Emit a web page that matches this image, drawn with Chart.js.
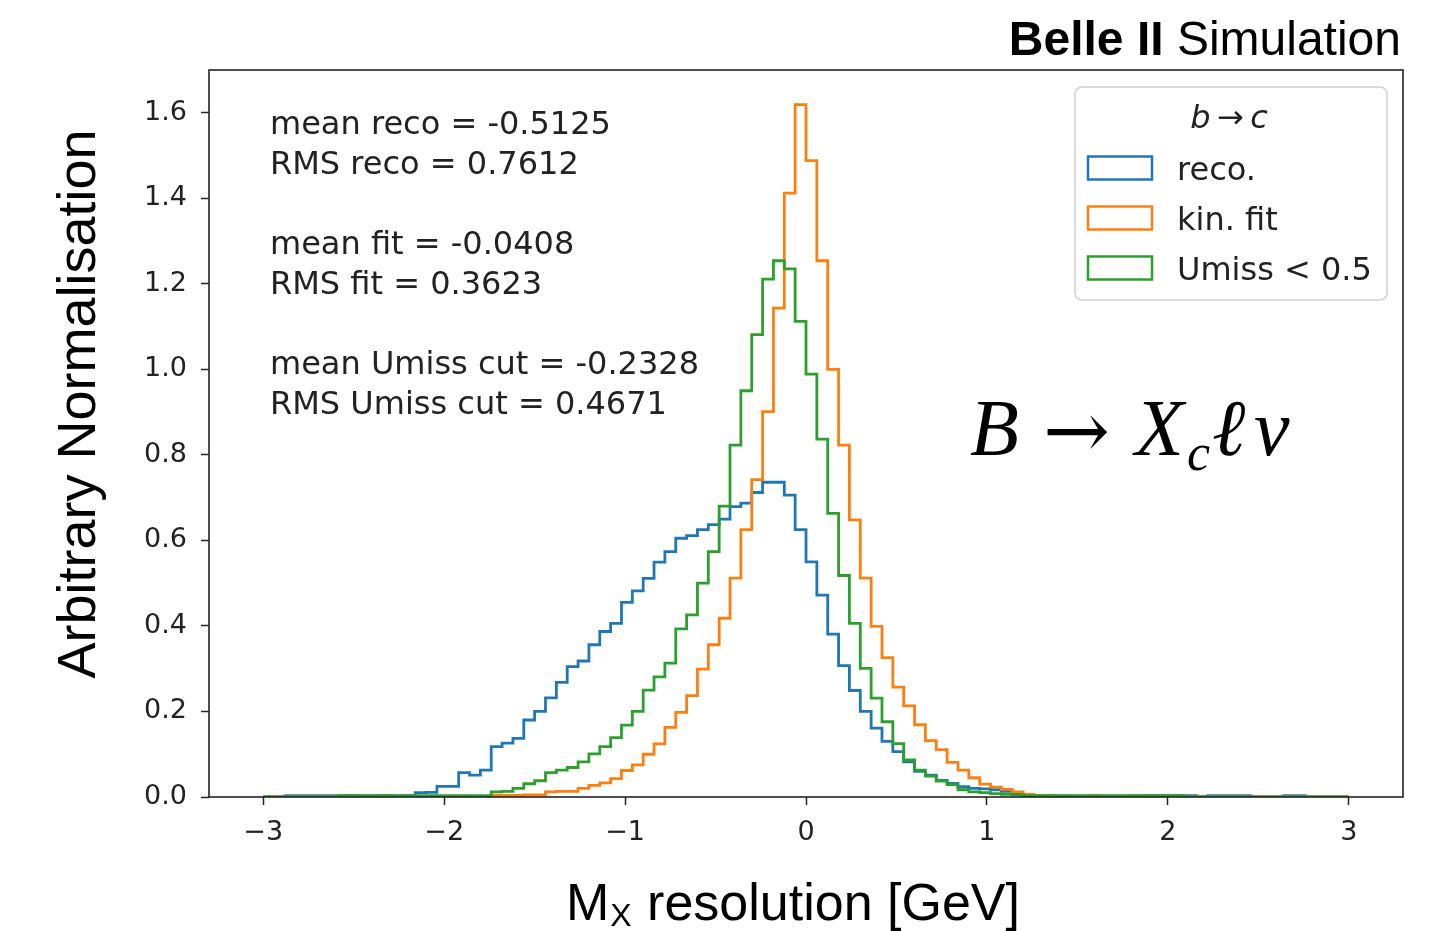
<!DOCTYPE html>
<html>
<head>
<meta charset="utf-8">
<script src="https://cdn.jsdelivr.net/npm/chart.js@4.4.1/dist/chart.umd.min.js"></script>
<style>
  html, body { margin: 0; padding: 0; background: #fff; }
  #wrap { width: 1430px; height: 931px; position: relative; }
</style>
</head>
<body>
<div id="wrap"><canvas id="chart"></canvas></div>
<script>
// histogram range: 100 bins between -3 and 3 GeV
const binLow = -3, binHigh = 3;

// normalised bin contents
const reco = [
  0, 0, 0.003, 0.003, 0.003, 0.003, 0.003, 0.003, 0.003, 0.003,
  0.003, 0.003, 0.003, 0.003, 0.010, 0.011, 0.025, 0.025, 0.057, 0.051,
  0.063, 0.118, 0.126, 0.137, 0.180, 0.200, 0.232, 0.268, 0.305, 0.318,
  0.356, 0.387, 0.406, 0.455, 0.482, 0.511, 0.549, 0.574, 0.605, 0.611,
  0.625, 0.637, 0.650, 0.679, 0.687, 0.712, 0.736, 0.736, 0.706, 0.625,
  0.550, 0.472, 0.381, 0.307, 0.249, 0.200, 0.161, 0.130, 0.106, 0.082,
  0.060, 0.051, 0.039, 0.032, 0.024, 0.020, 0.019, 0.017, 0.013, 0.008,
  0.005, 0.003, 0.003, 0.002, 0.002, 0.002, 0.002, 0.002, 0.002, 0.002,
  0.002, 0.003, 0.003, 0.003, 0.003, 0.003, 0, 0.003, 0.003, 0.003,
  0.003, 0, 0, 0, 0.003, 0.003, 0, 0, 0, 0
];
const kinFit = [
  0, 0, 0, 0, 0, 0, 0, 0, 0, 0,
  0, 0, 0, 0, 0, 0, 0, 0, 0, 0,
  0, 0.004, 0.004, 0.004, 0.005, 0.005, 0.012, 0.013, 0.013, 0.020,
  0.027, 0.033, 0.043, 0.062, 0.075, 0.100, 0.124, 0.163, 0.198, 0.237,
  0.299, 0.356, 0.418, 0.512, 0.625, 0.742, 0.901, 1.143, 1.412, 1.619,
  1.488, 1.254, 1.000, 0.823, 0.648, 0.512, 0.399, 0.326, 0.257, 0.213,
  0.169, 0.132, 0.111, 0.081, 0.063, 0.045, 0.030, 0.023, 0.018, 0.012,
  0.006, 0.003, 0.002, 0.002, 0.001, 0.001, 0.003, 0.001, 0.001, 0.001,
  0.003, 0, 0, 0, 0, 0, 0, 0, 0, 0,
  0, 0, 0, 0, 0, 0, 0, 0, 0, 0
];
const umiss = [
  0, 0, 0, 0, 0, 0, 0, 0.003, 0.003, 0.002,
  0.003, 0.003, 0.002, 0.003, 0.003, 0.003, 0.003, 0.003, 0.003, 0.003,
  0.003, 0.012, 0.013, 0.020, 0.031, 0.038, 0.057, 0.063, 0.069, 0.082,
  0.101, 0.118, 0.139, 0.168, 0.200, 0.250, 0.281, 0.313, 0.393, 0.426,
  0.500, 0.574, 0.680, 0.823, 0.950, 1.081, 1.211, 1.254, 1.235, 1.112,
  0.989, 0.837, 0.663, 0.518, 0.406, 0.301, 0.231, 0.176, 0.125, 0.087,
  0.063, 0.049, 0.037, 0.029, 0.017, 0.012, 0.010, 0.008, 0.006, 0.005,
  0.003, 0.003, 0.003, 0.003, 0.003, 0.003, 0.003, 0.003, 0.003, 0.003,
  0.003, 0.003, 0.003, 0.003, 0.003, 0, 0, 0, 0, 0,
  0, 0, 0, 0, 0, 0, 0, 0, 0, 0
];

const seriesLabels = ['reco.', 'kin. fit', 'Umiss < 0.5'];
const seriesColors = ['#1f77b4', '#ff7f0e', '#2ca02c'];
const legendTitle = 'b\u2009\u2192\u2009c';

const statLines = [
  'mean reco = -0.5125', 'RMS reco = 0.7612', '',
  'mean fit = -0.0408', 'RMS fit = 0.3623', '',
  'mean Umiss cut = -0.2328', 'RMS Umiss cut = 0.4671'
];

const xTitle = ['M', 'X', ' resolution [GeV]'];
const yTitle = 'Arbitrary Normalisation';

// outline of a step histogram: start and end on the baseline
function stepData(vals) {
  const w = (binHigh - binLow) / vals.length;
  const pts = [{ x: binLow, y: 0 }];
  vals.forEach((v, i) => pts.push({ x: binLow + i * w, y: v }));
  pts.push({ x: binHigh, y: 0 });
  return pts;
}

const overlay = {
  id: 'overlay',
  afterDatasetsDraw(chart) {
    const ctx = chart.ctx, a = chart.chartArea;
    ctx.save();
    // frame on top of the histograms
    ctx.strokeStyle = '#222';
    ctx.lineWidth = 1.6;
    ctx.strokeRect(a.left, a.top, a.right - a.left, a.bottom - a.top);
    ctx.restore();
  },
  afterDraw(chart) {
    const ctx = chart.ctx;
    ctx.save();
    ctx.fillStyle = '#222';
    ctx.textBaseline = 'alphabetic';

    // statistics block
    ctx.font = '32px "DejaVu Sans"';
    ctx.textAlign = 'left';
    statLines.forEach((s, i) => { if (s) ctx.fillText(s, 270, 134 + i * 40); });

    // legend
    const lx = 1075, ly = 87, lw = 312, lh = 213, r = 7;
    ctx.beginPath();
    ctx.moveTo(lx + r, ly);
    ctx.arcTo(lx + lw, ly, lx + lw, ly + lh, r);
    ctx.arcTo(lx + lw, ly + lh, lx, ly + lh, r);
    ctx.arcTo(lx, ly + lh, lx, ly, r);
    ctx.arcTo(lx, ly, lx + lw, ly, r);
    ctx.closePath();
    ctx.fillStyle = 'rgba(255,255,255,0.8)';
    ctx.fill();
    ctx.strokeStyle = '#d0d0d0';
    ctx.lineWidth = 1.5;
    ctx.stroke();

    ctx.fillStyle = '#222';
    ctx.font = 'italic 32px "DejaVu Sans"';
    ctx.textAlign = 'center';
    ctx.fillText(legendTitle, 1229, 128);

    ctx.textAlign = 'left';
    ctx.font = '32px "DejaVu Sans"';
    seriesLabels.forEach((lab, i) => {
      const cy = 168 + i * 50;
      ctx.strokeStyle = seriesColors[i];
      ctx.lineWidth = 2.5;
      ctx.strokeRect(1088, cy - 11.5, 64, 23);
      ctx.fillStyle = '#222';
      ctx.fillText(lab, 1177, cy + 12);
    });

    // experiment label
    ctx.fillStyle = '#000';
    ctx.textAlign = 'right';
    ctx.font = '48px "Liberation Sans"';
    const sim = ' Simulation';
    const simW = ctx.measureText(sim).width;
    ctx.fillText(sim, 1401, 55);
    ctx.font = 'bold 48px "Liberation Sans"';
    ctx.fillText('Belle II', 1401 - simW, 55);

    // process label B -> X_c l nu
    ctx.textAlign = 'left';
    ctx.font = 'italic 80px "Liberation Serif"';
    ctx.fillText('B', 970, 455);
    ctx.font = '80px "DejaVu Serif"';
    ctx.fillText('\u2192', 1043, 458);
    ctx.font = 'italic 80px "Liberation Serif"';
    ctx.fillText('X', 1135, 455);
    ctx.font = 'italic 52px "Liberation Serif"';
    ctx.fillText('c', 1187, 470);
    ctx.font = 'italic 80px "Liberation Serif"';
    ctx.fillText('\u2113', 1212, 455);
    ctx.fillText('\u03bd', 1254, 455);

    // axis titles
    ctx.fillStyle = '#000';
    ctx.font = '52px "Liberation Sans"';
    let x = 566;
    ctx.fillText(xTitle[0], x, 920);
    x += ctx.measureText(xTitle[0]).width;
    ctx.font = '32px "Liberation Sans"';
    ctx.fillText(xTitle[1], x + 1, 926);
    x += ctx.measureText(xTitle[1]).width + 2;
    ctx.font = '52px "Liberation Sans"';
    ctx.fillText(xTitle[2], x, 920);

    ctx.save();
    ctx.font = '54px "Liberation Sans"';
    ctx.translate(95, 404);
    ctx.rotate(-Math.PI / 2);
    ctx.textAlign = 'center';
    ctx.fillText(yTitle, 0, 0);
    ctx.restore();

    ctx.restore();
  }
};

const tickFont = { family: 'DejaVu Sans', size: 27 };

new Chart(document.getElementById('chart'), {
  type: 'line',
  data: {
    datasets: [
      { label: seriesLabels[0], data: stepData(reco), borderColor: seriesColors[0], order: 3 },
      { label: seriesLabels[1], data: stepData(kinFit), borderColor: seriesColors[1], order: 2 },
      { label: seriesLabels[2], data: stepData(umiss), borderColor: seriesColors[2], order: 1 }
    ].map(d => Object.assign(d, { stepped: true, fill: false, borderWidth: 2.8, pointRadius: 0, tension: 0 }))
  },
  options: {
    responsive: true,
    maintainAspectRatio: false,
    animation: false,
    layout: { padding: { top: 70, right: 27, left: 0, bottom: 0 } },
    plugins: { legend: { display: false }, tooltip: { enabled: false } },
    scales: {
      x: {
        type: 'linear', min: -3.3, max: 3.3,
        border: { display: false },
        grid: { drawOnChartArea: false, drawTicks: true, tickLength: 8, tickWidth: 1.5, tickColor: '#222' },
        ticks: {
          stepSize: 1, includeBounds: false, maxRotation: 0, padding: 12,
          color: '#222', font: tickFont,
          callback: v => (v < 0 ? '\u2212' + Math.abs(v) : String(v))
        },
        afterFit: s => { s.height = 134; }
      },
      y: {
        type: 'linear', min: 0, max: 1.7,
        border: { display: false },
        grid: { drawOnChartArea: false, drawTicks: true, tickLength: 8, tickWidth: 1.5, tickColor: '#222' },
        ticks: {
          stepSize: 0.2, includeBounds: false, padding: 14,
          color: '#222', font: tickFont,
          callback: v => v.toFixed(1)
        },
        afterFit: s => { s.width = 209; }
      }
    }
  },
  plugins: [overlay]
});
</script>
</body>
</html>
